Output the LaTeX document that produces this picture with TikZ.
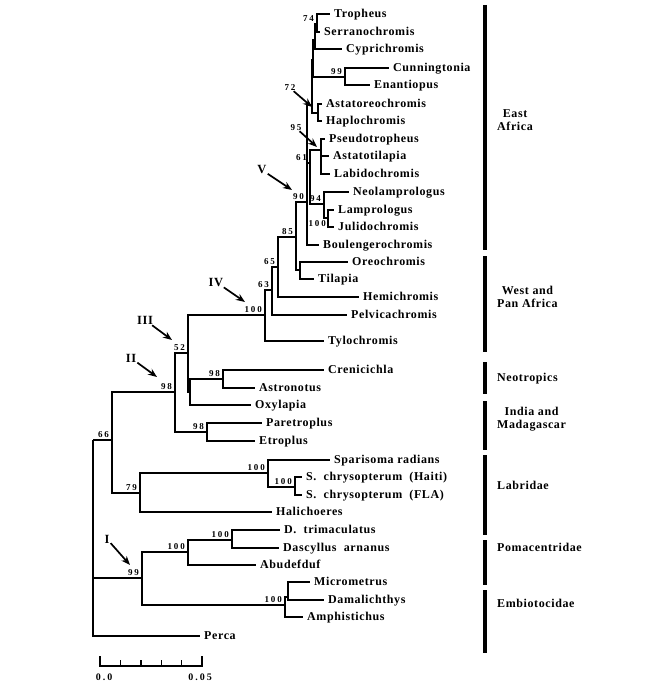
\documentclass[tikz,border=0pt]{standalone}
\usepackage{fontspec}
\setmainfont{Liberation Serif}
\newfontfamily\taxfont{Liberation Serif}[LetterSpace=5]
\newfontfamily\bootfont{Liberation Serif}[LetterSpace=20]
\usetikzlibrary{arrows.meta}

\tikzset{
  branch/.style={line width=1.7pt, line join=miter},
  taxon/.style={anchor=west, inner xsep=4pt, inner ysep=0pt, text height=7.9pt, text depth=0pt,
    font=\taxfont\bfseries\fontsize{12}{14}\selectfont},
  bootnum/.style={inner sep=0pt, font=\bootfont\bfseries\fontsize{9}{10}\selectfont},
  boot/.style={bootnum, anchor=south east, xshift=-3pt, yshift=2pt},
  marker/.style={inner sep=1pt, font=\taxfont\bfseries\fontsize{12.5}{14}\selectfont},
  pointer/.style={line width=1.7pt, -{Stealth[length=9pt,width=7pt]}},
  region/.style={line width=3.6pt},
  regionlabel/.style={anchor=west, align=center, inner sep=0pt,
    font=\taxfont\bfseries\fontsize{12}{13.5}\selectfont},
}

\begin{document}
\begin{tikzpicture}[x=1pt, y=-1pt]
\useasboundingbox (0,0) rectangle (664,682);

% internal nodes
\coordinate (root) at (93,440);
\coordinate (n66) at (112,440);
\coordinate (n79) at (140,493);
\coordinate (n98II) at (175,392);
\coordinate (n98m) at (207,432);
\coordinate (n52) at (188,353);
\coordinate (nNeo) at (190,392);
\coordinate (n98n) at (223,379);
\coordinate (nIV) at (265,315);
\coordinate (n63) at (272,290);
\coordinate (n65) at (278,267);
\coordinate (n85) at (296,237);
\coordinate (nOT) at (300,270);
\coordinate (n90) at (307,202);
\coordinate (n61) at (310,163);
\coordinate (nC) at (312,105);
\coordinate (nB) at (313,60);
\coordinate (nA) at (315,40);
\coordinate (n74) at (317,24);
\coordinate (n99c) at (345,77);
\coordinate (n72) at (318,113);
\coordinate (n95) at (321,150);
\coordinate (n94) at (324,204);
\coordinate (n100l) at (328,218);
\coordinate (n100s) at (268,473);
\coordinate (n100c) at (295,487);
\coordinate (n99I) at (142,578);
\coordinate (n100p) at (188,552);
\coordinate (n100d) at (232,540);
\coordinate (n100e) at (285,605);
\coordinate (nMD) at (288,597);

% taxa
\node[taxon] (tropheus) at (330,14) {Tropheus};
\node[taxon] (serrano) at (320,32) {Serranochromis};
\node[taxon] (cypri) at (342,49) {Cyprichromis};
\node[taxon] (cunning) at (389,68) {Cunningtonia};
\node[taxon] (enantio) at (370,85) {Enantiopus};
\node[taxon] (astatoreo) at (322,104) {Astatoreochromis};
\node[taxon] (haplo) at (322,121) {Haplochromis};
\node[taxon] (pseudo) at (325,139) {Pseudotropheus};
\node[taxon] (astatotil) at (329,156) {Astatotilapia};
\node[taxon] (labido) at (330,174) {Labidochromis};
\node[taxon] (neolamp) at (349,192) {Neolamprologus};
\node[taxon] (lamp) at (334,210) {Lamprologus};
\node[taxon] (julido) at (334,227) {Julidochromis};
\node[taxon] (boulenger) at (319,245) {Boulengerochromis};
\node[taxon] (oreo) at (348,262) {Oreochromis};
\node[taxon] (tilapia) at (314,279) {Tilapia};
\node[taxon] (hemi) at (359,297) {Hemichromis};
\node[taxon] (pelvica) at (347,315) {Pelvicachromis};
\node[taxon] (tylo) at (324,341) {Tylochromis};
\node[taxon] (crenici) at (324,370) {Crenicichla};
\node[taxon] (astrono) at (255,388) {Astronotus};
\node[taxon] (oxylapia) at (251,405) {Oxylapia};
\node[taxon] (paretro) at (262,423) {Paretroplus};
\node[taxon] (etroplus) at (255,441) {Etroplus};
\node[taxon] (sparisoma) at (330,460) {Sparisoma radians};
\node[taxon] (chrysoHaiti) at (302,477) {S.~ chrysopterum~ (Haiti)};
\node[taxon] (chrysoFLA) at (302,495) {S.~ chrysopterum~ (FLA)};
\node[taxon] (halichoeres) at (272,512) {Halichoeres};
\node[taxon] (dtrimac) at (280,530) {D.~ trimaculatus};
\node[taxon] (dascyllus) at (279,548) {Dascyllus~ arnanus};
\node[taxon] (abudefduf) at (256,565) {Abudefduf};
\node[taxon] (micrometrus) at (310,582) {Micrometrus};
\node[taxon] (damali) at (324,600) {Damalichthys};
\node[taxon] (amphisti) at (303,617) {Amphistichus};
\node[taxon] (perca) at (200,636) {Perca};

% branches
\draw[branch] (root) |- (n66);
\draw[branch] (root) |- (n99I);
\draw[branch] (root) |- (perca.west);
\draw[branch] (n66) |- (n98II);
\draw[branch] (n66) |- (n79);
\draw[branch] (n98II) |- (n52);
\draw[branch] (n98II) |- (n98m);
\draw[branch] (n98m) |- (paretro.west);
\draw[branch] (n98m) |- (etroplus.west);
\draw[branch] (n52) |- (nIV);
\draw[branch] (n52) |- (nNeo);
\draw[branch] (nNeo) |- (n98n);
\draw[branch] (nNeo) |- (oxylapia.west);
\draw[branch] (n98n) |- (crenici.west);
\draw[branch] (n98n) |- (astrono.west);
\draw[branch] (nIV) |- (n63);
\draw[branch] (nIV) |- (tylo.west);
\draw[branch] (n63) |- (n65);
\draw[branch] (n63) |- (pelvica.west);
\draw[branch] (n65) |- (n85);
\draw[branch] (n65) |- (hemi.west);
\draw[branch] (n85) |- (n90);
\draw[branch] (n85) |- (nOT);
\draw[branch] (nOT) |- (oreo.west);
\draw[branch] (nOT) |- (tilapia.west);
\draw[branch] (n90) |- (nC);
\draw[branch] (n90) |- (n61);
\draw[branch] (n90) |- (boulenger.west);
\draw[branch] (n61) |- (n95);
\draw[branch] (n61) |- (n94);
\draw[branch] (n94) |- (neolamp.west);
\draw[branch] (n94) |- (n100l);
\draw[branch] (n100l) |- (lamp.west);
\draw[branch] (n100l) |- (julido.west);
\draw[branch] (n95) |- (pseudo.west);
\draw[branch] (n95) |- (astatotil.west);
\draw[branch] (n95) |- (labido.west);
\draw[branch] (nC) |- (nB);
\draw[branch] (nC) |- (n72);
\draw[branch] (n72) |- (astatoreo.west);
\draw[branch] (n72) |- (haplo.west);
\draw[branch] (nB) |- (nA);
\draw[branch] (nB) |- (n99c);
\draw[branch] (n99c) |- (cunning.west);
\draw[branch] (n99c) |- (enantio.west);
\draw[branch] (nA) |- (n74);
\draw[branch] (nA) |- (cypri.west);
\draw[branch] (n74) |- (tropheus.west);
\draw[branch] (n74) |- (serrano.west);
\draw[branch] (n79) |- (n100s);
\draw[branch] (n79) |- (halichoeres.west);
\draw[branch] (n100s) |- (sparisoma.west);
\draw[branch] (n100s) |- (n100c);
\draw[branch] (n100c) |- (chrysoHaiti.west);
\draw[branch] (n100c) |- (chrysoFLA.west);
\draw[branch] (n99I) |- (n100p);
\draw[branch] (n99I) |- (n100e);
\draw[branch] (n100p) |- (n100d);
\draw[branch] (n100p) |- (abudefduf.west);
\draw[branch] (n100d) |- (dtrimac.west);
\draw[branch] (n100d) |- (dascyllus.west);
\draw[branch] (n100e) |- (nMD);
\draw[branch] (n100e) |- (amphisti.west);
\draw[branch] (nMD) |- (micrometrus.west);
\draw[branch] (nMD) |- (damali.west);

% bootstrap values
\node[boot] (b74) at (n74) {74};
\node[boot] (b99c) at (n99c) {99};
\node[boot] (b61) at (n61) {61};
\node[boot] (b94) at (n94) {94};
\node[bootnum, anchor=east] (b100l) at (326,224) {100};
\node[boot] (b90) at (n90) {90};
\node[boot] (b85) at (n85) {85};
\node[boot] (b65) at (n65) {65};
\node[boot] (b63) at (n63) {63};
\node[boot] (b100IV) at (nIV) {100};
\node[boot] (b52) at (n52) {52};
\node[boot] (b98n) at (n98n) {98};
\node[boot] (b98II) at (n98II) {98};
\node[boot] (b98m) at (n98m) {98};
\node[boot] (b66) at (n66) {66};
\node[boot] (b79) at (n79) {79};
\node[boot] (b100s) at (n100s) {100};
\node[boot] (b100c) at (n100c) {100};
\node[boot] (b99I) at (n99I) {99};
\node[boot] (b100p) at (n100p) {100};
\node[boot] (b100d) at (n100d) {100};
\node[boot] (b100e) at (n100e) {100};

% arrows with labels
\node[bootnum] (b72) at (290,88) {72};
\node[bootnum] (b95) at (296,128) {95};
\node[marker] (mI) at (107,539) {I};
\node[marker] (mII) at (131,358) {II};
\node[marker] (mIII) at (145,320) {III};
\node[marker] (mIV) at (216,282) {IV};
\node[marker] (mV) at (262,170) {V};
\coordinate (t72) at (312,107);
\coordinate (t95) at (317,147);
\coordinate (tI) at (130,565);
\coordinate (tII) at (157,377);
\coordinate (tIII) at (172,340);
\coordinate (tIV) at (245,302);
\coordinate (tV) at (292,190);
\draw[pointer] (b72) -- (t72);
\draw[pointer] (b95) -- (t95);
\draw[pointer] (mI) -- (tI);
\draw[pointer] (mII) -- (tII);
\draw[pointer] (mIII) -- (tIII);
\draw[pointer] (mIV) -- (tIV);
\draw[pointer] (mV) -- (tV);

% regions
\draw[region] (485,5) -- (485,250);
\draw[region] (485,256) -- (485,352);
\draw[region] (485,362) -- (485,394);
\draw[region] (485,401) -- (485,450);
\draw[region] (485,455) -- (485,535);
\draw[region] (485,540) -- (485,585);
\draw[region] (485,590) -- (485,653);
\node[regionlabel] (eastafrica) at (497,120) {East\\Africa};
\node[regionlabel] (westafrica) at (497,297) {West and\\Pan Africa};
\node[regionlabel] (neotropics) at (497,379) {Neotropics};
\node[regionlabel] (india) at (497,419) {India and\\Madagascar};
\node[regionlabel] (labridae) at (497,485) {Labridae};
\node[regionlabel] (pomacentridae) at (497,547) {Pomacentridae};
\node[regionlabel] (embiotocidae) at (497,603) {Embiotocidae};

% scale bar
\draw[line width=1.4pt] (100,656) -- (100,666) -- (202,666) -- (202,656);
\draw[line width=1.4pt] (120.4,660) -- (120.4,666);
\draw[line width=1.4pt] (140.8,660) -- (140.8,666);
\draw[line width=1.4pt] (161.2,660) -- (161.2,666);
\draw[line width=1.4pt] (181.6,660) -- (181.6,666);
\node[bootnum, font=\bootfont\bfseries\fontsize{10}{11}\selectfont] (s0) at (104,677) {0.0};
\node[bootnum, font=\bootfont\bfseries\fontsize{10}{11}\selectfont] (s5) at (200,677) {0.05};
\end{tikzpicture}
\end{document}
